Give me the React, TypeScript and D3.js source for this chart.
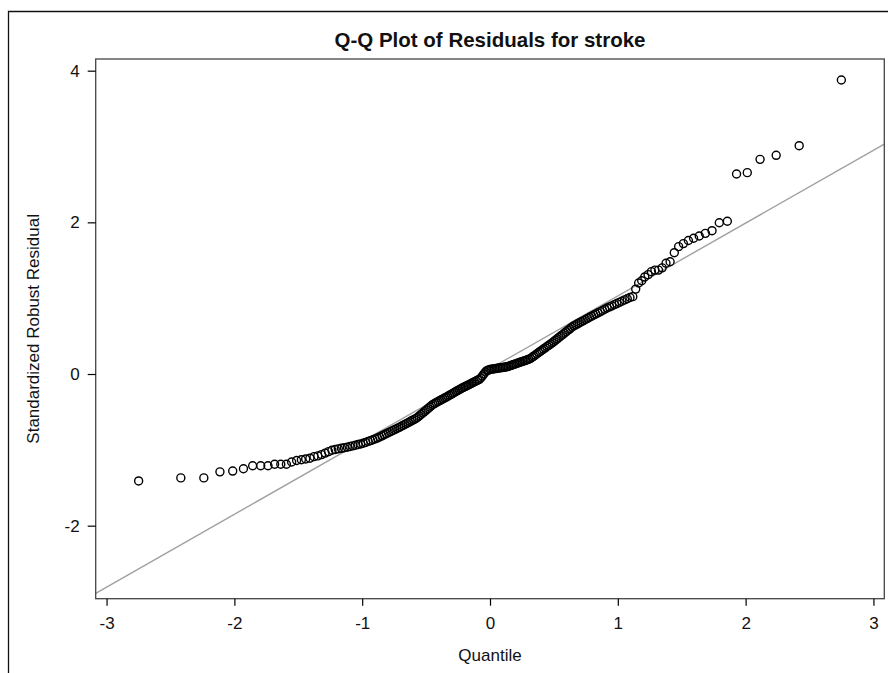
import * as d3 from "d3";
import React, { useRef, useEffect } from "react";

const width = 888;
const height = 673;
const plot = { left: 95.7, right: 884.3, top: 59, bottom: 598.7 };
const font = "'Liberation Sans', Arial, sans-serif";

const title = "Q-Q Plot of Residuals for stroke";
const xLabel = "Quantile";
const yLabel = "Standardized Robust Residual";

const xTicks = [-3, -2, -1, 0, 1, 2, 3];
const yTicks = [-2, 0, 2, 4];
const xDomain = [-3.085, 3.085];
const yDomain = [-2.963, 4.154];

// reference line (gray)
const refIntercept = 0.07;
const refSlope = 0.96;

// normal quantiles (x)
const quantile = [
  -2.749, -2.419, -2.239, -2.113, -2.013, -1.929, -1.857, -1.794, -1.737, -1.685,
  -1.637, -1.593, -1.552, -1.513, -1.476, -1.442, -1.409, -1.377, -1.347, -1.318,
  -1.29, -1.263, -1.237, -1.211, -1.187, -1.163, -1.14, -1.117, -1.095, -1.074,
  -1.053, -1.032, -1.012, -0.992, -0.973, -0.953, -0.935, -0.916, -0.898, -0.88,
  -0.863, -0.845, -0.828, -0.812, -0.795, -0.779, -0.763, -0.747, -0.731, -0.715,
  -0.7, -0.685, -0.67, -0.655, -0.64, -0.625, -0.611, -0.596, -0.582, -0.568,
  -0.554, -0.54, -0.526, -0.513, -0.499, -0.486, -0.472, -0.459, -0.446, -0.432,
  -0.419, -0.406, -0.393, -0.381, -0.368, -0.355, -0.342, -0.33, -0.317, -0.304,
  -0.292, -0.279, -0.267, -0.255, -0.242, -0.23, -0.218, -0.205, -0.193, -0.181,
  -0.169, -0.157, -0.144, -0.132, -0.12, -0.108, -0.096, -0.084, -0.072, -0.06,
  -0.048, -0.036, -0.024, -0.012, 0,
  0.012, 0.024, 0.036, 0.048, 0.06, 0.072, 0.084, 0.096, 0.108, 0.12, 0.132,
  0.144, 0.157, 0.169, 0.181, 0.193, 0.205, 0.218, 0.23, 0.242, 0.255, 0.267, 0.279, 0.292, 0.304,
  0.317, 0.33, 0.342, 0.355, 0.368, 0.381, 0.393, 0.406, 0.419, 0.432, 0.446, 0.459, 0.472, 0.486,
  0.499, 0.513, 0.526, 0.54, 0.554, 0.568, 0.582, 0.596,
  0.611, 0.625, 0.64,
  0.655, 0.67, 0.685, 0.7, 0.715, 0.731, 0.747, 0.763, 0.779,
  0.795, 0.812, 0.828, 0.845, 0.863, 0.88, 0.898, 0.916,
  0.935, 0.953, 0.973, 0.992, 1.012,
  1.032, 1.053, 1.074, 1.095, 1.117,
  1.14, 1.163, 1.187, 1.211, 1.237, 1.263, 1.29, 1.318, 1.347, 1.377, 1.409,
  1.442, 1.476, 1.513, 1.552, 1.593, 1.637, 1.685, 1.737, 1.794, 1.857,
  1.929, 2.013, 2.113, 2.239, 2.419, 2.749,
];

// sorted standardized robust residuals (y)
const residual = [
  -1.41, -1.37, -1.37, -1.29, -1.28, -1.25, -1.21, -1.21, -1.21, -1.19,
  -1.19, -1.19, -1.16, -1.14, -1.13, -1.12, -1.11, -1.09, -1.08, -1.063,
  -1.043, -1.024, -1.006, -0.995, -0.987, -0.98, -0.973, -0.966, -0.956, -0.948,
  -0.939, -0.93, -0.922, -0.913, -0.901, -0.889, -0.878, -0.867, -0.856, -0.844,
  -0.83, -0.815, -0.801, -0.787, -0.773, -0.76, -0.747, -0.734, -0.72, -0.707,
  -0.695, -0.681, -0.668, -0.654, -0.641, -0.627, -0.614, -0.601, -0.588, -0.574,
  -0.554, -0.534, -0.514, -0.496, -0.476, -0.457, -0.437, -0.419, -0.4, -0.387,
  -0.375, -0.363, -0.351, -0.34, -0.328, -0.317, -0.305, -0.293, -0.28, -0.268,
  -0.256, -0.243, -0.231, -0.22, -0.207, -0.196, -0.185, -0.174, -0.164, -0.154,
  -0.144, -0.133, -0.122, -0.112, -0.102, -0.092, -0.081, -0.071, -0.053, -0.026,
  0.0, 0.027, 0.045, 0.052, 0.06,
  0.063, 0.066, 0.069, 0.073, 0.076, 0.079, 0.082, 0.085, 0.088, 0.092, 0.095,
  0.101, 0.109, 0.116, 0.123, 0.13, 0.137, 0.145, 0.152, 0.159, 0.166, 0.173, 0.18, 0.188, 0.195,
  0.205, 0.221, 0.235, 0.251, 0.267, 0.283, 0.298, 0.314, 0.33, 0.345, 0.363, 0.378, 0.394, 0.411,
  0.428, 0.447, 0.464, 0.483, 0.502, 0.52, 0.539, 0.558,
  0.578, 0.596, 0.617,
  0.635, 0.648, 0.662, 0.676, 0.69, 0.704, 0.719, 0.734, 0.748,
  0.763, 0.778, 0.792, 0.807, 0.823, 0.838, 0.854, 0.87,
  0.885, 0.899, 0.915, 0.929, 0.945,
  0.961, 0.977, 0.993, 1.009, 1.02,
  1.12, 1.2, 1.23, 1.28, 1.31, 1.35, 1.37, 1.37, 1.4, 1.46, 1.48,
  1.6, 1.68, 1.72, 1.76, 1.79, 1.82, 1.855, 1.89, 1.995, 2.015,
  2.637, 2.655, 2.831, 2.884, 3.011, 3.877,
];

const App = () => {
  const xAxisRef = useRef(null);
  const yAxisRef = useRef(null);

  const xScale = d3.scaleLinear().domain(xDomain).range([plot.left, plot.right]);
  const yScale = d3.scaleLinear().domain(yDomain).range([plot.bottom, plot.top]);

  const points = quantile.map((q, i) => ({ q, r: residual[i] }));

  useEffect(() => {
    const xAxis = d3
      .axisBottom(xScale)
      .tickValues(xTicks)
      .tickSize(7)
      .tickPadding(11)
      .tickFormat((d) => String(d));
    const gx = d3.select(xAxisRef.current).call(xAxis);
    gx.select(".domain").remove();
    gx.selectAll("line").attr("stroke", "#000").attr("stroke-width", 1.2);
    gx.selectAll("text")
      .attr("fill", "#111")
      .style("font-family", font)
      .style("font-size", "17px");

    const yAxis = d3
      .axisLeft(yScale)
      .tickValues(yTicks)
      .tickSize(8)
      .tickPadding(8)
      .tickFormat((d) => String(d));
    const gy = d3.select(yAxisRef.current).call(yAxis);
    gy.select(".domain").remove();
    gy.selectAll("line").attr("stroke", "#000").attr("stroke-width", 1.2);
    gy.selectAll("text")
      .attr("fill", "#111")
      .style("font-family", font)
      .style("font-size", "17px");
  }, []);

  const x0 = xDomain[0];
  const x1 = xDomain[1];

  return (
    <svg
      width={width}
      height={height}
      style={{ position: "absolute", left: 0, top: 0, background: "#fff" }}
    >
      <defs>
        <clipPath id="plotClip">
          <rect
            x={plot.left}
            y={plot.top}
            width={plot.right - plot.left}
            height={plot.bottom - plot.top}
          />
        </clipPath>
      </defs>

      {/* outer frame */}
      <path d={`M8.5,${height + 2}V11.5H${width + 2}`} fill="none" stroke="#111" strokeWidth={1.3} />

      <text
        x={(plot.left + plot.right) / 2}
        y={46.5}
        textAnchor="middle"
        fontFamily={font}
        fontWeight="bold"
        fontSize={20.5}
        fill="#111"
      >
        {title}
      </text>

      <g clipPath="url(#plotClip)">
        <line
          x1={xScale(x0)}
          y1={yScale(refIntercept + refSlope * x0)}
          x2={xScale(x1)}
          y2={yScale(refIntercept + refSlope * x1)}
          stroke="#a0a0a0"
          strokeWidth={1.4}
        />
        {points.map((d, i) => (
          <circle
            key={i}
            cx={xScale(d.q)}
            cy={yScale(d.r)}
            r={4}
            fill="none"
            stroke="#000"
            strokeWidth={1.4}
          />
        ))}
      </g>

      <rect
        x={plot.left}
        y={plot.top}
        width={plot.right - plot.left}
        height={plot.bottom - plot.top}
        fill="none"
        stroke="#444"
        strokeWidth={1.3}
      />

      <g ref={xAxisRef} transform={`translate(0, ${plot.bottom})`} />
      <g ref={yAxisRef} transform={`translate(${plot.left}, 0)`} />

      <text
        x={(plot.left + plot.right) / 2}
        y={661}
        textAnchor="middle"
        fontFamily={font}
        fontSize={17}
        fill="#111"
      >
        {xLabel}
      </text>
      <text
        transform={`translate(39, ${(plot.top + plot.bottom) / 2}) rotate(-90)`}
        textAnchor="middle"
        fontFamily={font}
        fontSize={17}
        fill="#111"
      >
        {yLabel}
      </text>
    </svg>
  );
};

export default App;
